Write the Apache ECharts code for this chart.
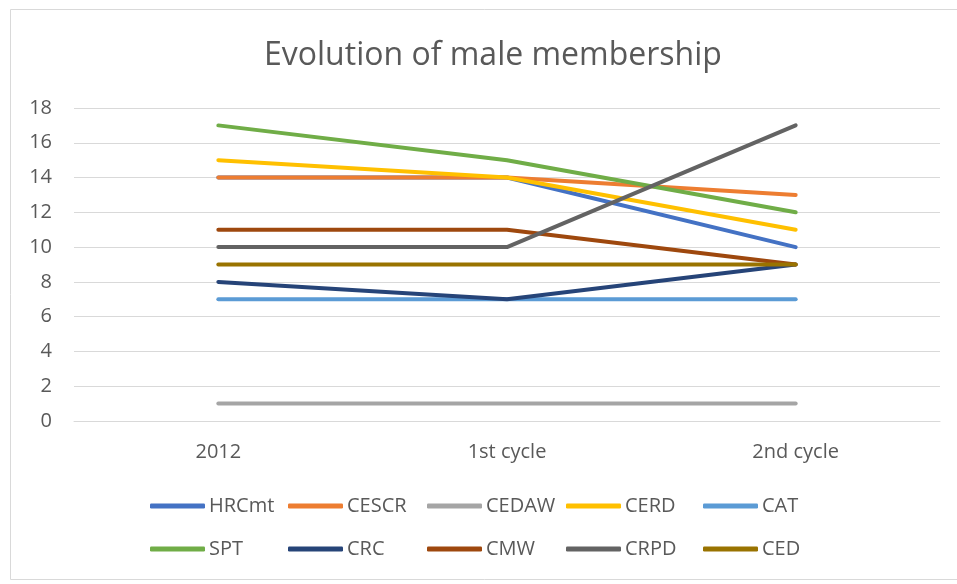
<!DOCTYPE html>
<html>
<head>
<meta charset="utf-8">
<title>Evolution of male membership</title>
<script src="https://cdn.jsdelivr.net/npm/echarts@6/dist/echarts.min.js"></script>
<style>
  html, body { margin: 0; padding: 0; background: #fff; }
  #chart { width: 957px; height: 584px; }
</style>
</head>
<body>
<div id="chart"></div>
<script>
var categories = ['2012', '1st cycle', '2nd cycle'];
var seriesNames = ['HRCmt', 'CESCR', 'CEDAW', 'CERD', 'CAT', 'SPT', 'CRC', 'CMW', 'CRPD', 'CED'];
var colors = ['#4472C4', '#ED7D31', '#A5A5A5', '#FFC000', '#5B9BD5', '#70AD47', '#264478', '#9E480E', '#636363', '#997300'];

var hrcmt = [14, 14, 10];
var cescr = [14, 14, 13];
var cedaw = [1, 1, 1];
var cerd  = [15, 14, 11];
var cat   = [7, 7, 7];
var spt   = [17, 15, 12];
var crc   = [8, 7, 9];
var cmw   = [11, 11, 9];
var crpd  = [10, 10, 17];
var ced   = [9, 9, 9];
var values = [hrcmt, cescr, cedaw, cerd, cat, spt, crc, cmw, crpd, ced];

var yTicks = { min: 0, max: 18, interval: 2 };

var font = '"Open Sans", sans-serif';
var textColor = '#595959';

(function () {
    var myChart = echarts.init(document.getElementById('chart'));

    var series = [];
    for (var i = 0; i < seriesNames.length; i++) {
        series.push({
            name: seriesNames[i],
            type: 'line',
            data: values[i],
            symbol: 'none',
            lineStyle: { width: 4, color: colors[i], cap: 'round', join: 'round' },
            itemStyle: { color: colors[i] },
            z: 2 + i
        });
    }

    // legend: 5 per row, fixed column pitch like the Excel original
    var legendCols = [150, 288, 427, 566, 703];
    var legendRows = [496, 539];
    var legends = [];
    for (var k = 0; k < seriesNames.length; k++) {
        legends.push({
            data: [seriesNames[k]],
            left: legendCols[k % 5],
            top: legendRows[Math.floor(k / 5)],
            itemWidth: 55,
            itemHeight: 5,
            icon: 'roundRect',
            padding: 0,
            textStyle: {
                fontFamily: font,
                fontSize: 20,
                color: textColor,
                padding: [0, 0, 0, -1]
            }
        });
    }

    var option = {
        animation: false,
        color: colors,
        title: {
            text: 'Evolution of male membership',
            left: 259,
            top: 35,
            textStyle: {
                fontFamily: font,
                fontSize: 32,
                fontWeight: 'normal',
                color: textColor
            }
        },
        graphic: [{
            type: 'rect',
            shape: { x: 10.5, y: 9.5, width: 960, height: 570 },
            style: { fill: 'none', stroke: '#d9d9d9', lineWidth: 1 },
            silent: true
        }],
        legend: legends,
        grid: {
            left: 74,
            right: 17,
            top: 108,
            bottom: 163,
            containLabel: false
        },
        xAxis: {
            type: 'category',
            data: categories,
            boundaryGap: true,
            axisLine: { lineStyle: { color: '#d9d9d9', width: 1 } },
            axisTick: { show: false },
            axisLabel: {
                fontFamily: font,
                fontSize: 20,
                color: textColor,
                margin: 21
            }
        },
        yAxis: {
            type: 'value',
            min: yTicks.min,
            max: yTicks.max,
            interval: yTicks.interval,
            axisLine: { show: false },
            axisTick: { show: false },
            splitLine: { lineStyle: { color: '#d9d9d9', width: 1 } },
            axisLabel: {
                fontFamily: font,
                fontSize: 20,
                color: textColor,
                margin: 22
            }
        },
        series: series
    };

    myChart.setOption(option);
    window.addEventListener('resize', function () {
        myChart.resize();
    });
})();
</script>
</body>
</html>
